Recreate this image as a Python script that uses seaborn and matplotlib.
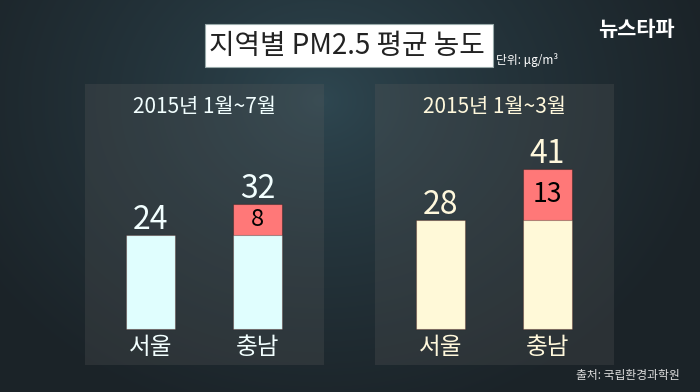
import numpy as np
import pandas as pd
import matplotlib
matplotlib.use("Agg")
import matplotlib.pyplot as plt
from matplotlib.patches import Rectangle
import seaborn as sns

# ---- data ----
title = "지역별 PM2.5 평균 농도"
unit = "단위: μg/m³"
source = "출처: 국립환경과학원"
logo = "뉴스타파"
periods = ["2015년 1월~7월", "2015년 1월~3월"]
regions = ["서울", "충남"]
base_jan_jul = [24, 24]
extra_jan_jul = [0, 8]
base_jan_mar = [28, 28]
extra_jan_mar = [0, 13]

sns.set_style("white")
plt.rcParams["font.family"] = ["Noto Sans CJK KR", "DejaVu Sans"]

W, H = 700, 392
fig = plt.figure(figsize=(W / 100, H / 100), dpi=100)

# background gradient
bg = fig.add_axes([0, 0, 1, 1], zorder=-5)
yy, xx = np.mgrid[0:H, 0:W]
d = np.sqrt((xx - 320) ** 2 + ((yy - 100) * 1.2) ** 2)
t = np.clip(d / 400, 0, 1) ** 0.75
c0 = np.array([47, 72, 82]) / 255
c1 = np.array([27, 35, 40]) / 255
img = c0[None, None, :] * (1 - t[..., None]) + c1[None, None, :] * t[..., None]
bg.imshow(img, extent=[0, W, H, 0], aspect="auto")
bg.set_xlim(0, W)
bg.set_ylim(H, 0)
bg.axis("off")

red = "#FF7878"
panels = [
    dict(left=85, period=periods[0], base=base_jan_jul, extra=extra_jan_jul,
         fill="#E0FEFE", text="#F2FFFF", inner_size=17),
    dict(left=375, period=periods[1], base=base_jan_mar, extra=extra_jan_mar,
         fill="#FFF9D8", text="#FFF8DC", inner_size=19),
]

px_per_unit = 3.9
bar_px = 49
step_px = 107
top, bottom, width_px = 84, 365, 239
baseline_px = 329
first_center_off = 65.5

for p in panels:
    ax = fig.add_axes([p["left"] / W, (H - bottom) / H, width_px / W, (bottom - top) / H])
    ax.set_facecolor((0.37, 0.37, 0.37, 0.25))
    totals = [b + e for b, e in zip(p["base"], p["extra"])]
    df = pd.DataFrame({"region": regions, "base": p["base"], "total": totals})
    sns.barplot(data=df, x="region", y="total", color=red, saturation=1,
                width=bar_px / step_px, ax=ax, edgecolor=(0, 0, 0, 0.3), linewidth=0.8)
    sns.barplot(data=df, x="region", y="base", color=p["fill"], saturation=1,
                width=bar_px / step_px, ax=ax, edgecolor=(0, 0, 0, 0.3), linewidth=0.8)
    x0 = -first_center_off / step_px
    ax.set_xlim(x0, x0 + width_px / step_px)
    ax.set_ylim(-(bottom - baseline_px) / px_per_unit, (baseline_px - top) / px_per_unit)
    for s in ax.spines.values():
        s.set_visible(False)
    ax.set_xticks([])
    ax.set_yticks([])
    ax.set_xlabel("")
    ax.set_ylabel("")
    for i, (b, e, tot) in enumerate(zip(p["base"], p["extra"], totals)):
        ax.annotate(str(tot), (i, tot), xytext=(0, 4.5), textcoords="offset points",
                    ha="center", va="baseline", fontsize=23, fontweight="medium",
                    color=p["text"])
        if e > 0:
            ax.text(i, b + e / 2, str(e), ha="center", va="center",
                    fontsize=p["inner_size"], color="black")
        ax.text(i, -(348 - baseline_px) / px_per_unit, regions[i], ha="center",
                va="center", fontsize=17, color=p["text"])
    ax.text(0.5, (bottom - 107) / (bottom - top), p["period"], transform=ax.transAxes,
            ha="center", va="center", fontsize=15, color=p["text"])

# title box
fig.patches.append(Rectangle((205 / W, 1 - 67 / H), 288 / W, 43 / H,
                             transform=fig.transFigure, facecolor="white",
                             edgecolor="#9aa", linewidth=0.8, zorder=5))
fig.text(347 / W, 1 - 45.5 / H, title, ha="center", va="center", fontsize=20,
         color="#222222", zorder=6)
fig.text(496 / W, 1 - 60 / H, unit, ha="left", va="center", fontsize=8.5,
         color="white", zorder=6)
fig.text(636 / W, 1 - 30 / H, logo, ha="center", va="center", fontsize=15,
         fontweight="bold", color="white", zorder=6)
fig.text(680 / W, 1 - 375 / H, source, ha="right", va="center", fontsize=8.5,
         color="#DDDDDD", zorder=6)

fig.savefig("out.png", dpi=100)
